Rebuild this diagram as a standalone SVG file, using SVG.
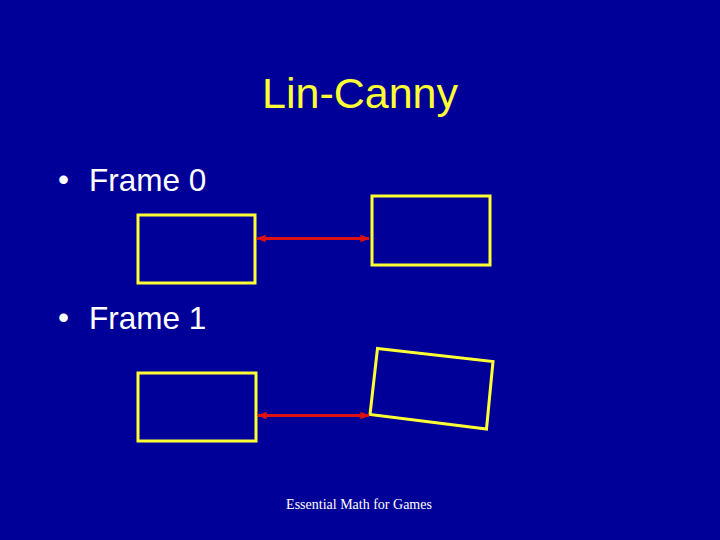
<svg xmlns="http://www.w3.org/2000/svg" width="720" height="540" viewBox="0 0 720 540">
<style>
.box{fill:none;stroke:#FFFF33;stroke-width:3}
.conn{stroke:#DD1111;stroke-width:3;fill:none}
.bul{font-family:"Liberation Sans",Arial,sans-serif;fill:#FFFFFF;font-size:31.5px}
</style>
<defs>
<marker id="ah" viewBox="0 0 10 10" refX="9" refY="5" markerWidth="3.2" markerHeight="3.2" orient="auto-start-reverse" markerUnits="strokeWidth">
<path d="M0,1 L10,5 L0,9 Z" fill="#DD1111"/>
</marker>
</defs>
<rect width="720" height="540" fill="#000099"/>
<text x="360" y="108" text-anchor="middle" font-family="'Liberation Sans',Arial,sans-serif" font-size="43" fill="#FFFF33">Lin-Canny</text>
<text class="bul" x="58" y="190" font-size="22">•</text>
<text class="bul" x="89" y="191">Frame 0</text>
<text class="bul" x="58" y="328" font-size="22">•</text>
<text class="bul" x="89" y="329">Frame 1</text>
<g id="frame0-a"><rect class="box" x="138" y="215" width="117" height="68"/></g>
<g id="frame0-b"><rect class="box" x="372" y="196" width="118" height="69"/></g>
<g id="frame1-a"><rect class="box" x="138" y="373" width="118" height="68"/></g>
<g id="frame1-b"><polygon class="box" points="377.5,348.5 493,361.5 486.5,429 370,414.5"/></g>
<g id="connectors">
<line class="conn" x1="257" y1="238.5" x2="369" y2="238.5" marker-start="url(#ah)" marker-end="url(#ah)"/>
<line class="conn" x1="258" y1="415.5" x2="369" y2="415.5" marker-start="url(#ah)" marker-end="url(#ah)"/>
</g>
<text x="359" y="509" text-anchor="middle" font-family="'Liberation Serif','Times New Roman',serif" font-size="14" fill="#FFFFFF">Essential Math for Games</text>
</svg>
